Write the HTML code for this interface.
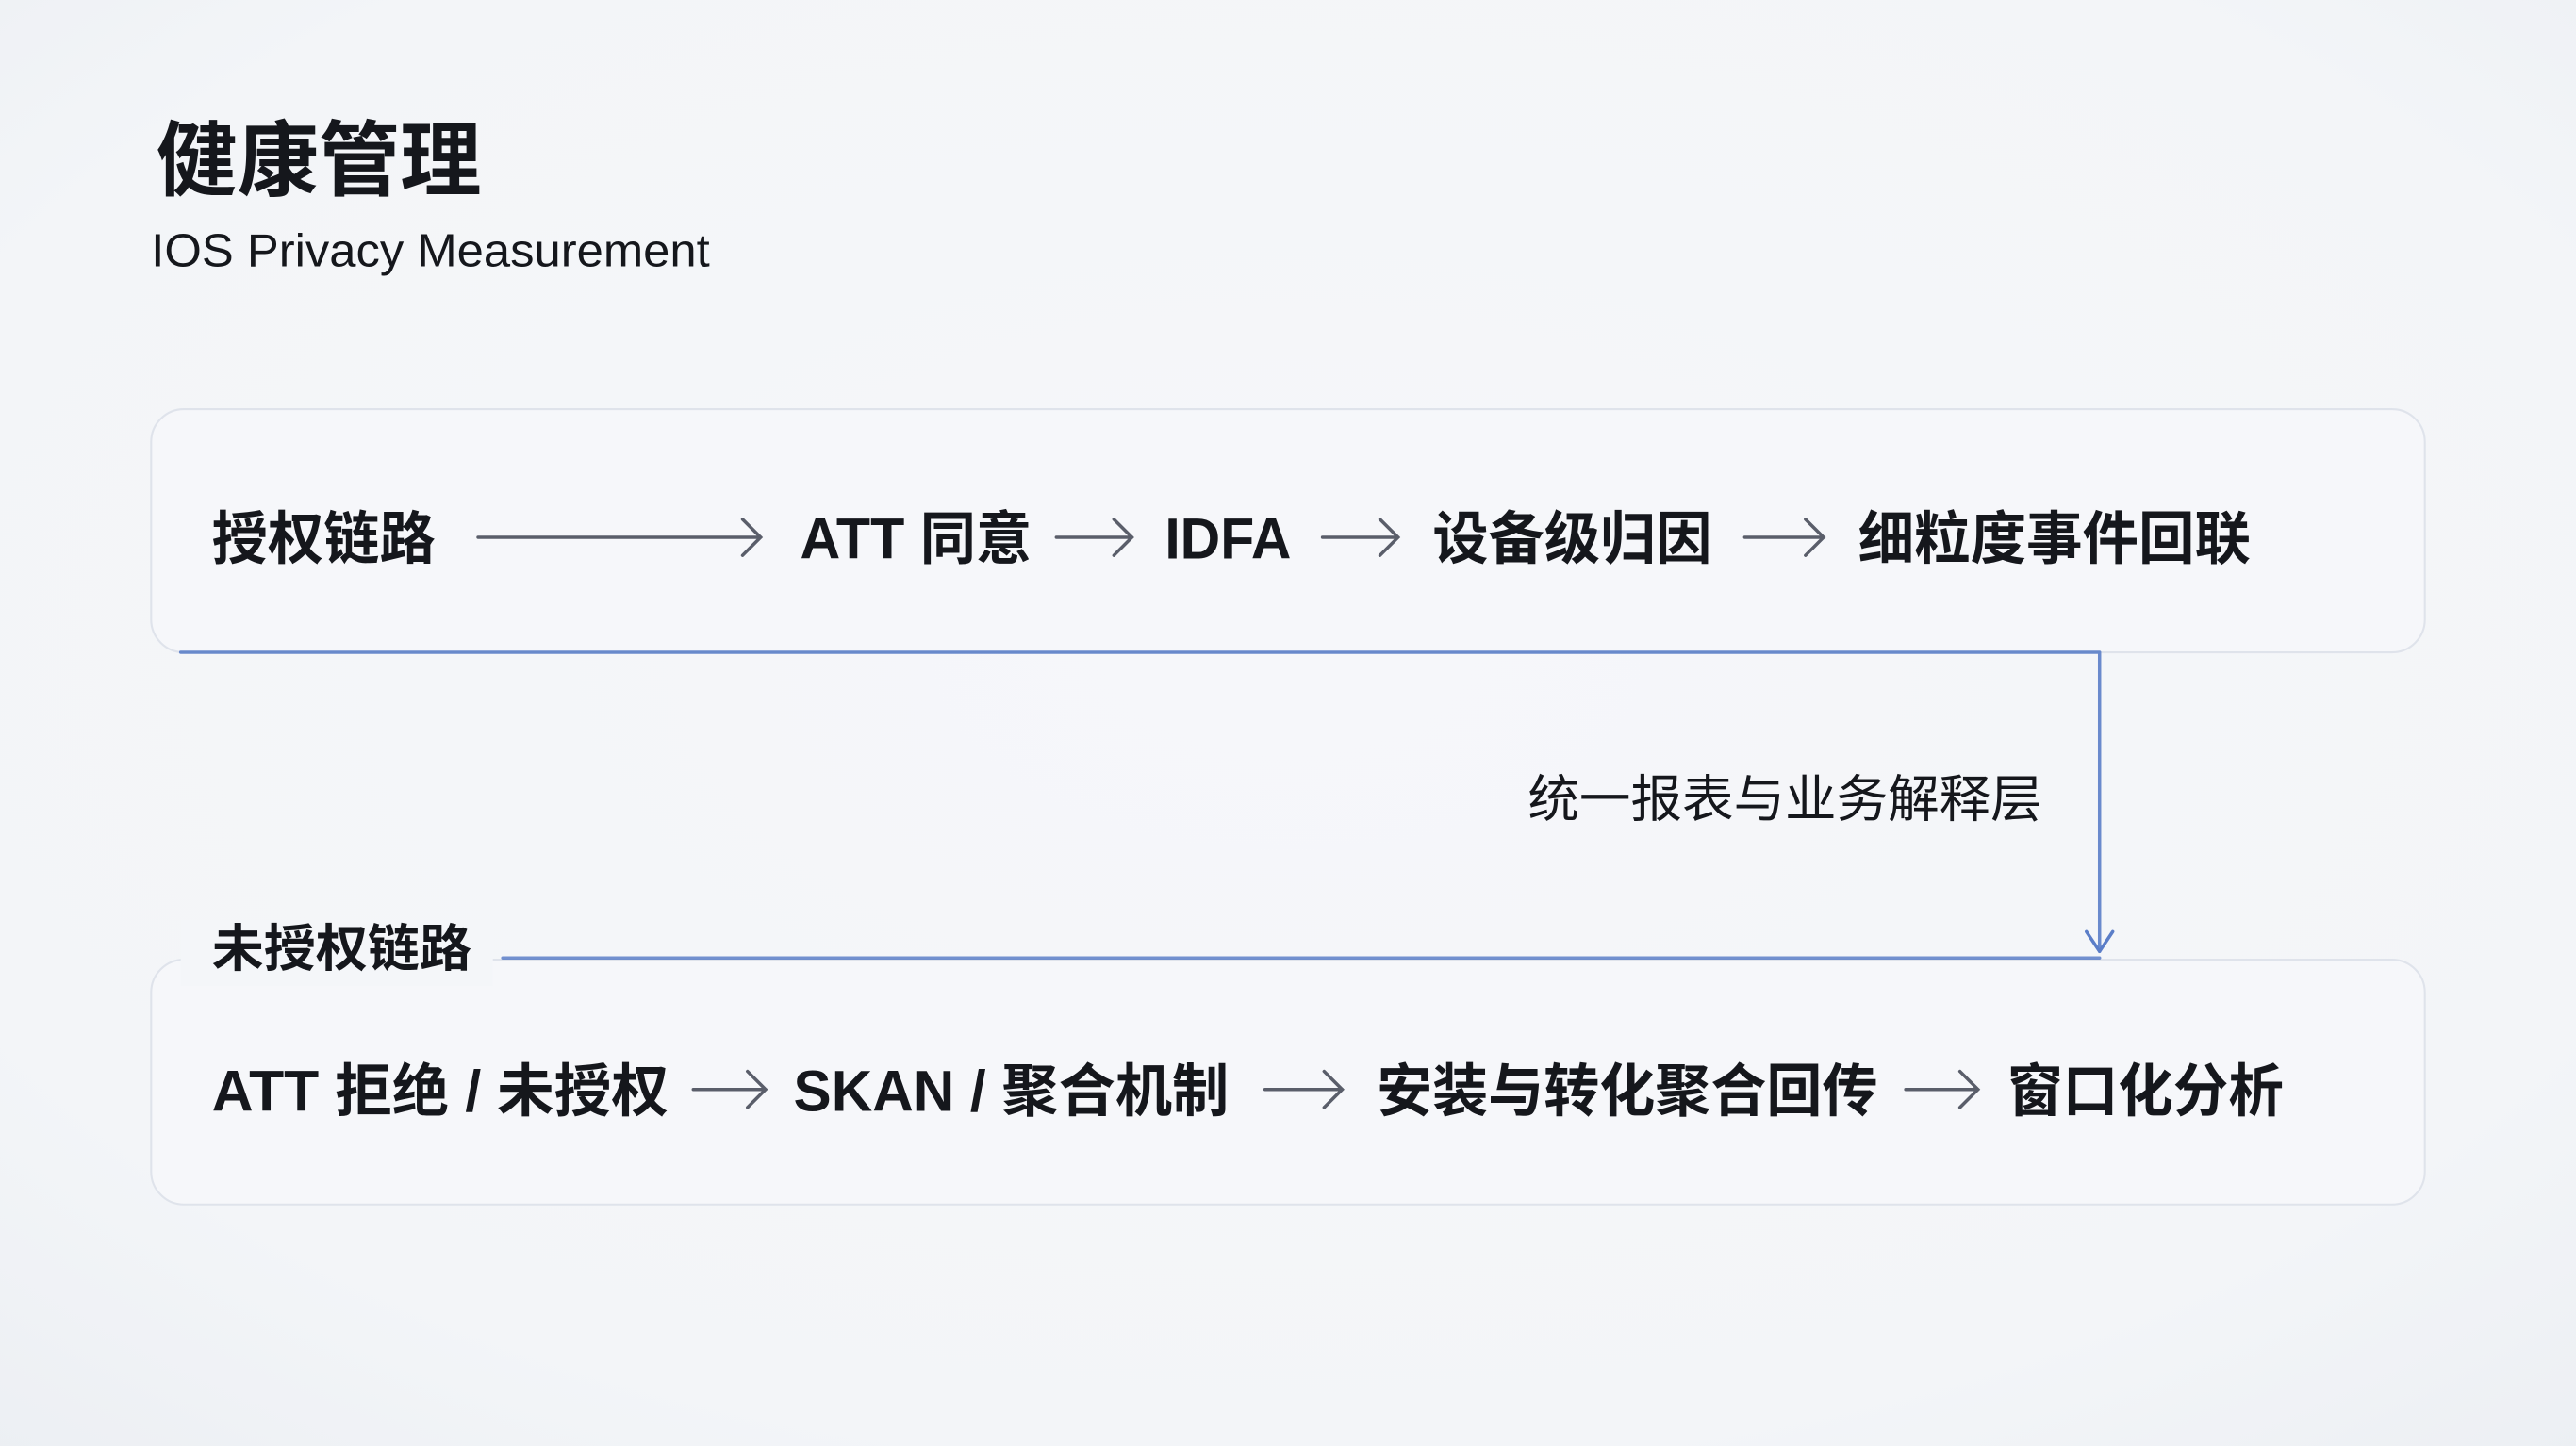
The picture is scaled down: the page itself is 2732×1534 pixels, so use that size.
<!DOCTYPE html>
<html><head><meta charset="utf-8"><style>
html,body{margin:0;padding:0;width:2732px;height:1534px;overflow:hidden;background:#f4f6f9}
svg{display:block}
text{font-family:"Liberation Sans","Noto Sans CJK SC",sans-serif;fill:#15171c}
</style></head><body>
<svg width="2732" height="1534" viewBox="0 0 1568 880" preserveAspectRatio="none" xmlns="http://www.w3.org/2000/svg">
<defs>
<radialGradient id="bg" cx="50%" cy="45%" r="75%">
<stop offset="0" stop-color="#f6f7fa"/><stop offset="0.75" stop-color="#f3f5f8"/><stop offset="1" stop-color="#eceff3"/>
</radialGradient>
</defs>
<rect width="1568" height="880" fill="url(#bg)"/>
<text x="95" y="115" font-size="50" font-weight="bold" fill="#1a1d29" textLength="198" lengthAdjust="spacingAndGlyphs">健康管理</text>
<text x="92" y="162" font-size="28" fill="#3d414a" textLength="340" lengthAdjust="spacingAndGlyphs">IOS Privacy Measurement</text>

<rect x="92" y="249" width="1384" height="148" rx="20" fill="#f6f7fa" stroke="#dfe3eb" stroke-width="1.2"/>
<rect x="92" y="584" width="1384" height="149" rx="20" fill="#f6f7fa" stroke="#dfe3eb" stroke-width="1.2"/>

<g stroke="#5a5e6a" stroke-width="2" fill="none" stroke-linecap="round">
<path d="M291 327H463M452 316L463 327L452 338"/>
<path d="M643 327H689M678 316L689 327L678 338"/>
<path d="M805 327H851M840 316L851 327L840 338"/>
<path d="M1062 327H1110M1099 316L1110 327L1099 338"/>
<path d="M422 663H466M455 652L466 663L455 674"/>
<path d="M770 663H817M806 652L817 663L806 674"/>
<path d="M1160 663H1204M1193 652L1204 663L1193 674"/>
</g>

<g font-size="35" font-weight="bold">
<text x="129" y="340" textLength="136" lengthAdjust="spacingAndGlyphs">授权链路</text>
<text x="487" y="340" textLength="141" lengthAdjust="spacingAndGlyphs">ATT 同意</text>
<text x="709" y="340" textLength="77" lengthAdjust="spacingAndGlyphs">IDFA</text>
<text x="872" y="340" textLength="170" lengthAdjust="spacingAndGlyphs">设备级归因</text>
<text x="1131" y="340" textLength="239" lengthAdjust="spacingAndGlyphs">细粒度事件回联</text>
<text x="129" y="676" textLength="278" lengthAdjust="spacingAndGlyphs">ATT 拒绝 / 未授权</text>
<text x="483" y="676" textLength="265" lengthAdjust="spacingAndGlyphs">SKAN / 聚合机制</text>
<text x="838" y="676" textLength="305" lengthAdjust="spacingAndGlyphs">安装与转化聚合回传</text>
<text x="1222" y="676" textLength="168" lengthAdjust="spacingAndGlyphs">窗口化分析</text>
</g>

<rect x="110" y="560" width="190" height="40" fill="#f4f6f9"/>
<text x="129" y="588" font-size="31" font-weight="bold" textLength="158" lengthAdjust="spacingAndGlyphs">未授权链路</text>
<text x="930" y="497" font-size="31" fill="#22252c" textLength="313" lengthAdjust="spacingAndGlyphs">统一报表与业务解释层</text>

<g stroke="#5b7ec8" stroke-width="2" fill="none" stroke-linecap="round" stroke-linejoin="round">
<path d="M110 397H1278V579" stroke-opacity="0.9"/>
<path d="M1270 567L1278 579L1286 567"/>
<path d="M306 583H1278" stroke-opacity="0.85"/>
</g>
</svg>
</body></html>
